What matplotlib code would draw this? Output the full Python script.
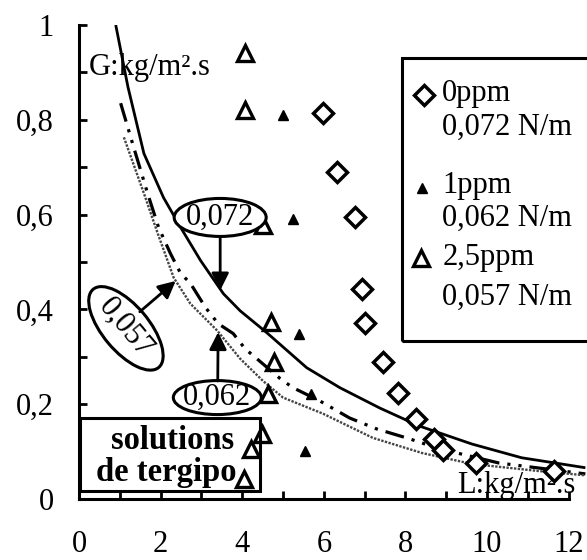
import matplotlib
matplotlib.use('Agg')
import matplotlib.pyplot as plt
from matplotlib.patches import Rectangle, Ellipse
from matplotlib.transforms import ScaledTranslation

plt.rcParams['font.family'] = ['Liberation Serif', 'DejaVu Serif']

# ---- data ----
# curves G(L) for three surface tensions
solid_L = [0.90, 1.20, 1.59, 2.07, 2.49, 2.98, 3.54, 3.95, 4.60, 5.58, 6.39, 7.37, 8.34, 9.63, 10.85, 12.41]
solid_G = [1.00, 0.869, 0.729, 0.636, 0.573, 0.503, 0.433, 0.397, 0.351, 0.277, 0.235, 0.192, 0.154, 0.116, 0.087, 0.066]

dashdot_L = [1.02, 1.34, 1.68, 1.95, 2.24, 2.49, 2.73, 3.10, 3.41, 3.78, 4.07, 4.44, 4.93, 5.24, 5.90, 6.63, 7.29, 8.10, 8.83, 10.29, 12.41]
dashdot_G = [0.835, 0.742, 0.645, 0.573, 0.518, 0.476, 0.455, 0.404, 0.370, 0.349, 0.317, 0.290, 0.254, 0.235, 0.207, 0.171, 0.148, 0.127, 0.106, 0.076, 0.053]

stip_L = [1.10, 1.59, 1.93, 2.32, 2.73, 3.39, 3.95, 4.51, 5.00, 5.98, 7.20, 8.41, 9.63, 11.27, 12.41]
stip_G = [0.763, 0.645, 0.560, 0.467, 0.412, 0.355, 0.296, 0.249, 0.214, 0.180, 0.129, 0.097, 0.074, 0.059, 0.050]

# measured points
ppm0_L = [5.98, 6.32, 6.76, 6.93, 7.02, 7.46, 7.83, 8.27, 8.71, 8.93, 9.73, 11.65]
ppm0_G = [0.814, 0.689, 0.594, 0.444, 0.372, 0.288, 0.224, 0.169, 0.127, 0.104, 0.076, 0.060]

ppm1_L = [5.00, 5.24, 5.39, 5.68, 5.55]
ppm1_G = [0.810, 0.590, 0.349, 0.222, 0.101]

ppm25_L = [4.07, 4.07, 4.50, 4.70, 4.78, 4.64, 4.48, 4.22, 4.05]
ppm25_G = [0.940, 0.820, 0.577, 0.374, 0.288, 0.222, 0.138, 0.106, 0.043]

x_ticks = [0, 2, 4, 6, 8, 10, 12]
x_labels = ['0', '2', '4', '6', '8', '10', '12']
y_ticks = [0, 0.2, 0.4, 0.6, 0.8, 1.0]
y_labels = ['0', '0,2', '0,4', '0,6', '0,8', '1']

legend_names = ['0ppm', '1ppm', '2,5ppm']
legend_tension = ['0,072 N/m', '0,062 N/m', '0,057 N/m']
curve_labels = ['0,072', '0,062', '0,057']

# ---- figure ----
fig = plt.figure(figsize=(5.87, 5.6), dpi=100)
ax = fig.add_axes([0.1346, 0.1089, 1 - 0.1346, 0.9554 - 0.1089])
ax.set_xlim(0, 12.45)
ax.set_ylim(0, 1)

for s in ['top', 'right']:
    ax.spines[s].set_visible(False)
ax.spines['left'].set_bounds(0, 1)
ax.spines['bottom'].set_bounds(0, 12)
for s in ['left', 'bottom']:
    ax.spines[s].set_linewidth(2.2)

ax.set_xticks(x_ticks)
ax.set_xticklabels(x_labels)
ax.set_xticks([1, 3, 5, 7, 9, 11], minor=True)
ax.set_yticks(y_ticks)
ax.set_yticklabels(y_labels)
ax.set_yticks([0.1, 0.3, 0.5, 0.7, 0.9], minor=True)
ax.tick_params(which='both', direction='in', length=6, width=2)
ax.tick_params(axis='both', labelsize=22)
ax.tick_params(axis='x', pad=22)
ax.tick_params(axis='y', pad=18)

# curves
ax.plot(solid_L, solid_G, color='black', lw=2.0, solid_capstyle='butt', zorder=3)
ax.plot(dashdot_L, dashdot_G, color='black', lw=2.3,
        linestyle=(0, (6, 2.5, 1, 2.5, 1, 2.5)), zorder=3)
ax.plot(stip_L, stip_G, color='#444444', lw=1.7, linestyle=(0, (1, 0.6)), zorder=3)

# markers
ax.plot(ppm0_L, ppm0_G, ls='none', marker='D', ms=10, mfc='white', mec='black', mew=2.5, zorder=5)
ax.plot(ppm1_L, ppm1_G, ls='none', marker='^', ms=7, mfc='black', mec='black', zorder=5)
ax.plot(ppm25_L, ppm25_G, ls='none', marker='^', ms=12, mfc='none', mec='black', mew=2.4, zorder=5)

# axis titles inside
ax.text(0.24, 0.894, 'G:kg/m\u00b2.s', fontsize=22, ha='left', va='baseline', zorder=4)
ax.text(12.17, 0.012, 'L:kg/m\u00b2.s', fontsize=22, ha='right', va='baseline', zorder=4)

# legend box
ax.add_patch(Rectangle((7.92, 0.334), 5.0, 0.596, fill=False, lw=2.2, ec='black', zorder=4))
leg_marker_y = [0.852, 0.657, 0.508]
name_y = [0.839, 0.645, 0.494]
ten_y = [0.769, 0.577, 0.409]
ax.plot([8.46], [leg_marker_y[0]], marker='D', ms=10, mfc='white', mec='black', mew=2.5, zorder=5)
ax.plot([8.41], [leg_marker_y[1]], marker='^', ms=7, mfc='black', mec='black', zorder=5)
ax.plot([8.39], [leg_marker_y[2]], marker='^', ms=12, mfc='none', mec='black', mew=2.4, zorder=5)
for i in range(3):
    ax.text(8.90, name_y[i], legend_names[i], fontsize=22, ha='left', va='baseline', zorder=5)
    ax.text(8.90, ten_y[i], legend_tension[i], fontsize=22, ha='left', va='baseline', zorder=5)

# labelled ellipses with arrows
def ellipse_label(text, cx, cy, w_px, h_px, angle, start, tip):
    trans = fig.dpi_scale_trans + ScaledTranslation(cx, cy, ax.transData)
    ax.add_patch(Ellipse((0, 0), w_px / 100.0, h_px / 100.0, angle=angle, transform=trans,
                         fc='white', ec='black', lw=2.2, zorder=6))
    ax.text(cx, cy, text, fontsize=22, ha='center', va='center', rotation=angle,
            rotation_mode='anchor', zorder=7)
    ax.annotate('', xy=tip, xytext=start,
                arrowprops=dict(arrowstyle='-|>', color='black', lw=2, mutation_scale=26,
                                shrinkA=0, shrinkB=0), zorder=6)

ellipse_label(curve_labels[0], 3.46, 0.594, 92, 38, 0, (3.46, 0.553), (3.46, 0.44))
ellipse_label(curve_labels[1], 3.39, 0.214, 88, 34, 0, (3.40, 0.249), (3.41, 0.352))
ellipse_label(curve_labels[2], 1.15, 0.360, 102, 46, -50, (1.49, 0.395), (2.37, 0.46))

# solutions box
ax.add_patch(Rectangle((0.03, 0.017), 4.41, 0.154, fc='white', ec='black', lw=2.2, zorder=4))
ax.text(2.29, 0.123, 'solutions', fontsize=23.5, fontweight='bold', ha='center', va='center', zorder=4.5)
ax.text(2.15, 0.055, 'de tergipo', fontsize=23.5, fontweight='bold', ha='center', va='center', zorder=4.5)

fig.savefig('out.png', dpi=100)
